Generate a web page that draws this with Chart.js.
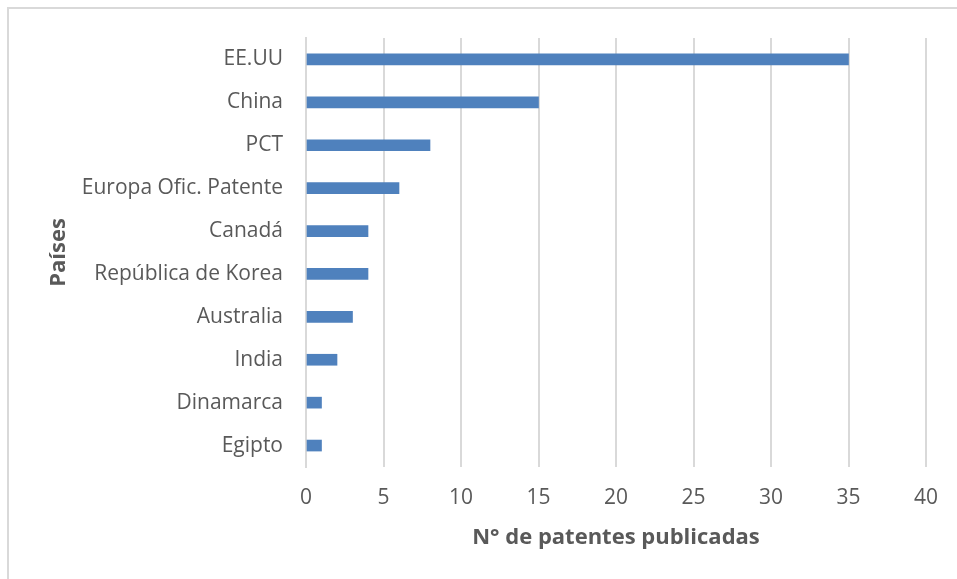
<!DOCTYPE html>
<html>
<head>
<meta charset="utf-8">
<script src="https://cdn.jsdelivr.net/npm/chart.js@4/dist/chart.umd.min.js"></script>
<style>
  html, body { margin: 0; padding: 0; background: #fff; }
  #wrap { position: relative; width: 957px; height: 579px; overflow: hidden; }
  #frame { position: absolute; left: 7px; top: 7px; width: 990px; height: 620px; border: 2px solid #d9d9d9; box-sizing: border-box; }
  canvas { position: absolute; left: 0; top: 0; }
</style>
</head>
<body>
<div id="wrap">
  <div id="frame"></div>
  <canvas id="patentChart" width="957" height="579"></canvas>
</div>
<script>
// Data
const countries = ['EE.UU', 'China', 'PCT', 'Europa Ofic. Patente', 'Canadá',
  'República de Korea', 'Australia', 'India', 'Dinamarca', 'Egipto'];
const patentCounts = [35, 15, 8, 6, 4, 4, 3, 2, 1, 1];
const xTicks = [0, 5, 10, 15, 20, 25, 30, 35, 40];

const textColor = '#595959';
const fontFamily = '"Open Sans", "Liberation Sans", sans-serif';

const ctx = document.getElementById('patentChart').getContext('2d');
new Chart(ctx, {
  type: 'bar',
  data: {
    labels: countries,
    datasets: [{
      label: 'N° de patentes',
      data: patentCounts,
      backgroundColor: '#4f81bd',
      barThickness: 11
    }]
  },
  options: {
    indexAxis: 'y',
    responsive: false,
    animation: false,
    layout: { padding: { top: 38, right: 31, left: 46, bottom: 28 } },
    plugins: { legend: { display: false }, tooltip: { enabled: false } },
    scales: {
      x: {
        min: 0,
        max: 40,
        afterBuildTicks: (axis) => { axis.ticks = xTicks.map(v => ({ value: v })); },
        grid: { color: '#d9d9d9', lineWidth: 2, drawTicks: false },
        border: { display: false },
        ticks: { color: textColor, font: { family: fontFamily, size: 21 }, padding: 18 },
        title: {
          display: true,
          text: 'N° de patentes publicadas',
          color: textColor,
          font: { family: fontFamily, size: 22, weight: 'bold' },
          padding: { top: 0, bottom: 0 }
        },
        afterFit: (scale) => { scale.height = 84; }
      },
      y: {
        grid: { display: false, drawTicks: false },
        border: { color: '#d9d9d9', width: 2 },
        ticks: { color: textColor, font: { family: fontFamily, size: 21 }, padding: 23 },
        title: {
          display: true,
          text: 'Países',
          color: textColor,
          font: { family: fontFamily, size: 22, weight: 'bold' },
          padding: { top: 0, bottom: 0 }
        },
        afterFit: (scale) => { scale.width = 260; }
      }
    }
  }
});
</script>
</body>
</html>
